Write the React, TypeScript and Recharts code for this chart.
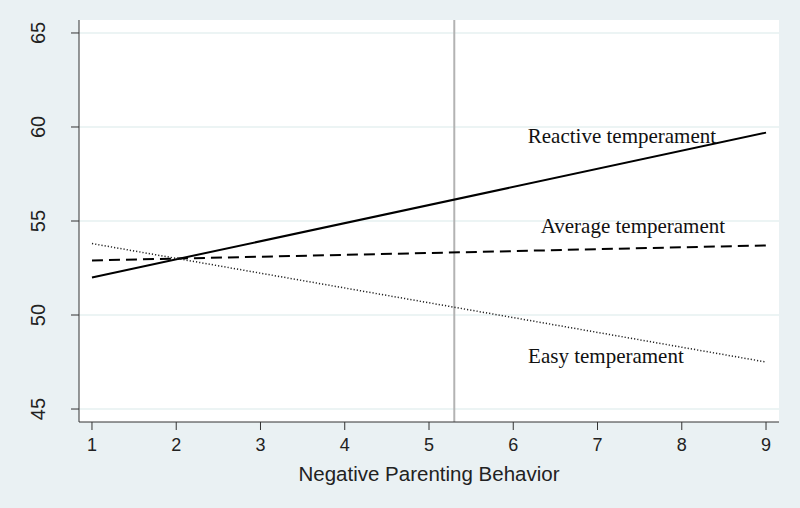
import {LineChart, Line, XAxis, YAxis, CartesianGrid, ReferenceLine, ReferenceDot} from "recharts";

// endpoints of the three simple slopes (straight lines)
const parenting = [1, 9];
const reactive = [52.0, 59.7];
const average = [52.9, 53.7];
const easy = [53.8, 47.5];

const xTicks = [1, 2, 3, 4, 5, 6, 7, 8, 9];
const yTicks = [45, 50, 55, 60, 65];
const meanParenting = 5.3;

// where the series names sit (data coordinates, text baseline)
const lineLabels = [
    {name: "Reactive temperament", x: 7.29, y: 59.13},
    {name: "Average temperament", x: 7.42, y: 54.35},
    {name: "Easy temperament", x: 7.1, y: 47.43},
];

const data = parenting.map((x, i) => ({
    x,
    reactive: reactive[i],
    average: average[i],
    easy: easy[i],
}));

const sans = "'Liberation Sans', Arial, sans-serif";
const serif = "'Liberation Serif', 'Times New Roman', serif";

const YTick = (props: any) => {
    const {x, y, payload} = props;
    return (
        <text x={x - 24} y={y} transform={`rotate(-90 ${x - 24} ${y})`} textAnchor="middle"
              fontFamily={sans} fontSize={20} fill="#222">
            {payload.value}
        </text>
    );
};

export default function App() {
    return (
        <div style={{position: "absolute", left: 0, top: 0, width: 800, height: 508, background: "#eaf1f3"}}>
            <LineChart width={800} height={508} data={data}
                       margin={{top: 20, right: 21, left: 19, bottom: 26}}>
                <CartesianGrid vertical={false} fill="#ffffff" stroke="#e6f0f1" strokeWidth={1.5}
                               horizontalValues={yTicks}/>
                <XAxis dataKey="x" type="number" domain={[0.846, 9.154]} ticks={xTicks}
                       height={60} stroke="#333" tickSize={8}
                       tick={{fontFamily: sans, fontSize: 18, fill: "#222", dy: 6}}
                       label={{value: "Negative Parenting Behavior", position: "insideBottom", offset: 0,
                           dy: -1, fontFamily: sans, fontSize: 20.5, fill: "#222"}}/>
                <YAxis type="number" domain={[44.31, 65.69]} ticks={yTicks} width={60}
                       stroke="#333" tickSize={8} tick={<YTick/>}/>
                <ReferenceLine x={meanParenting} stroke="#b3b3b3" strokeWidth={2}/>
                <Line dataKey="reactive" stroke="#000" strokeWidth={2} dot={false} isAnimationActive={false}/>
                <Line dataKey="average" stroke="#000" strokeWidth={2} strokeDasharray="11 6" dot={false}
                      isAnimationActive={false}/>
                <Line dataKey="easy" stroke="#222" strokeWidth={1.5} strokeDasharray="1.2 2" dot={false}
                      isAnimationActive={false}/>
                {lineLabels.map((l) => (
                    <ReferenceDot key={l.name} x={l.x} y={l.y} r={0}
                                  shape={(p: any) => (
                                      <text x={p.cx} y={p.cy} textAnchor="middle" fontFamily={serif}
                                            fontSize={21} fill="#111">{l.name}</text>
                                  )}/>
                ))}
            </LineChart>
        </div>
    );
}
